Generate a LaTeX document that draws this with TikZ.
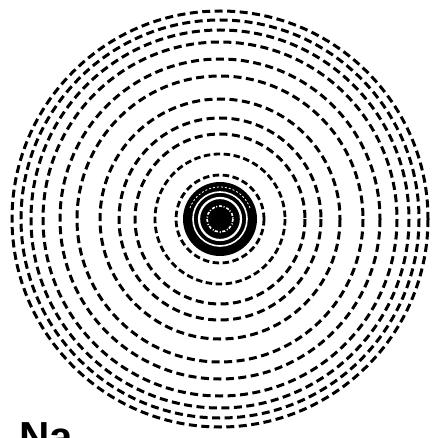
\documentclass[tikz,border=0pt]{standalone}
\usepackage{fontspec}
\newfontfamily\labelfont{Liberation Sans}
\begin{document}
\begin{tikzpicture}[x=1pt,y=-1pt,
  ring/.style={draw=black,line width=3pt,dash pattern=on 8pt off 4.5pt},
  innerring/.style={draw=black,line width=2.8pt,dash pattern=on 6.5pt off 3.5pt},
  whiteline/.style={draw=white,line width=#1},
]
\useasboundingbox (0,0) rectangle (438,438);
\clip (0,0) rectangle (438,438);
\fill[white] (0,0) rectangle (438,438);
\coordinate (c) at (220,219);
% dashed concentric rings
\foreach \r in {85,101,120,143,160,177,189,199,208}{
  \draw[ring] (c) circle[radius=\r];
}
\foreach \r in {44,65}{
  \draw[innerring] (c) circle[radius=\r];
}
% central bullseye
\fill[black] (c) circle[radius=37];
\draw[whiteline=1.6pt] (c) circle[radius=27];
\draw[white,line width=0.8pt,dash pattern=on 2pt off 2pt] (c) ++(200:32) arc[start angle=200,end angle=340,radius=32];
\draw[whiteline=2.2pt] (c) circle[radius=21];
\draw[white,line width=1.6pt,dash pattern=on 3pt off 1.5pt on 1pt off 2pt] (c) circle[radius=13];
\fill[black] (c) circle[radius=11.5];
% label
\node[font=\labelfont\bfseries\fontsize{42}{42}\selectfont,anchor=north west,inner sep=0pt] (lbl) at (19,422) {Na};
\end{tikzpicture}
\end{document}
